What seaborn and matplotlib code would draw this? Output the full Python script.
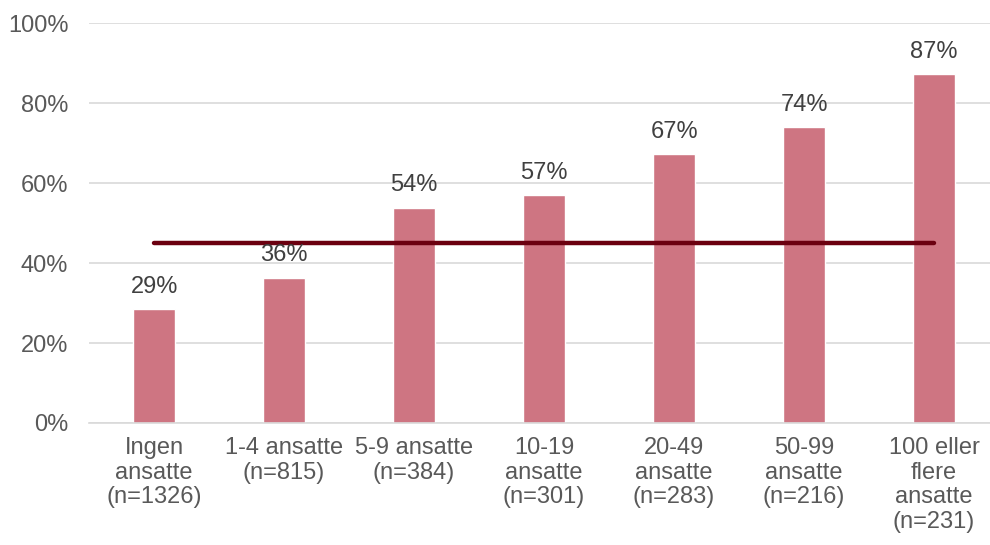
import numpy as np
import pandas as pd
import seaborn as sns
from matplotlib import pyplot as plt
from matplotlib.ticker import PercentFormatter

categories = ["Ingen\nansatte\n(n=1326)", "1-4 ansatte\n(n=815)", "5-9 ansatte\n(n=384)",
              "10-19\nansatte\n(n=301)", "20-49\nansatte\n(n=283)", "50-99\nansatte\n(n=216)",
              "100 eller\nflere\nansatte\n(n=231)"]
shares = [28.4, 36.4, 53.9, 57.0, 67.4, 74.1, 87.4]
labels = ["29%", "36%", "54%", "57%", "67%", "74%", "87%"]
average = [45, 45, 45, 45, 45, 45, 45]

sns.set_style("white")
plt.rcParams['font.family'] = ['Liberation Sans', 'DejaVu Sans']

df = pd.DataFrame({"kategori": categories, "andel": shares})

fig = plt.figure(figsize=(9.9, 5.45), dpi=100)
ax = fig.add_axes([0.09, 0.224, 0.91, 0.733])

sns.barplot(data=df, x="kategori", y="andel", color="#CE7582", saturation=1,
            width=0.32, ax=ax, zorder=2)
sns.lineplot(x=np.arange(len(average)), y=average, color="#6B0010", linewidth=3.2,
             ax=ax, zorder=3, solid_capstyle="round")

for i, (v, lab) in enumerate(zip(shares, labels)):
    ax.annotate(lab, (i, v), xytext=(0, 8), textcoords="offset points",
                ha="center", va="bottom", fontsize=17, color="#404040")

ax.set_ylim(0, 100)
ax.set_xlim(-0.5, 6.43)
ax.set_yticks(range(0, 101, 20))
ax.yaxis.set_major_formatter(PercentFormatter(decimals=0))
ax.grid(axis="y", color="#D9D9D9", linewidth=1.2, zorder=0)
for s in ["top", "right", "left"]:
    ax.spines[s].set_visible(False)
ax.spines["bottom"].set_color("#D9D9D9")
ax.spines["bottom"].set_linewidth(1.2)
ax.tick_params(axis="both", length=0, labelsize=17, labelcolor="#595959")
ax.tick_params(axis="x", pad=10)
ax.tick_params(axis="y", pad=15)
for t in ax.get_xticklabels():
    t.set_linespacing(1.16)
ax.set_xlabel("")
ax.set_ylabel("")

fig.savefig("out.png", dpi=100)
